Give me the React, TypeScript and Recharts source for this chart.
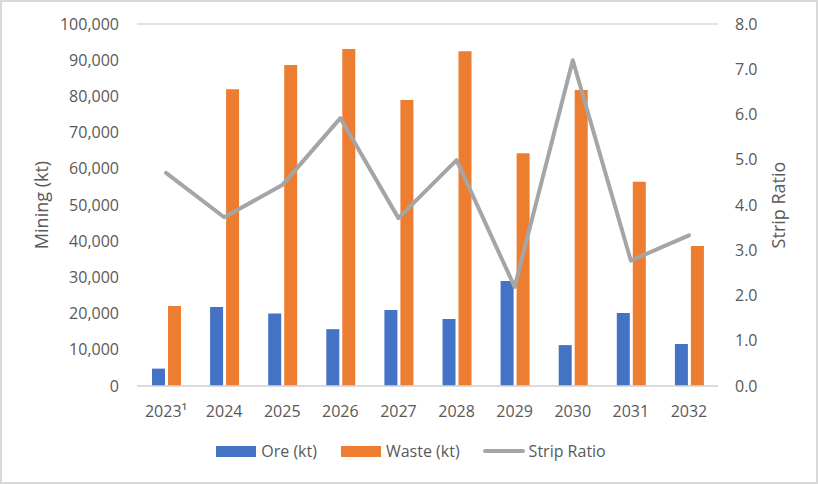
import React from 'react';
import { ComposedChart, Bar, Line, XAxis, YAxis, CartesianGrid, Legend } from 'recharts';

const years = ['2023¹', '2024', '2025', '2026', '2027', '2028', '2029', '2030', '2031', '2032'];
const ore = [4800, 21800, 20000, 15700, 21000, 18500, 29000, 11300, 20200, 11600];
const waste = [22100, 82000, 88700, 93100, 79000, 92500, 64300, 81800, 56400, 38700];
const stripRatio = [4.71, 3.73, 4.44, 5.92, 3.71, 4.99, 2.19, 7.2, 2.77, 3.33];
const miningTicks = [0, 10000, 20000, 30000, 40000, 50000, 60000, 70000, 80000, 90000, 100000];
const ratioTicks = [0, 1, 2, 3, 4, 5, 6, 7, 8];

const data = years.map((year, i) => ({
  year,
  ore: ore[i],
  waste: waste[i],
  ratio: stripRatio[i],
}));

const TEXT = '#595959';
const FONT = '"Open Sans", "Noto Sans", sans-serif';

const ChartLegend = () => (
  <div
    style={{
      display: 'flex',
      justifyContent: 'center',
      alignItems: 'center',
      fontFamily: FONT,
      fontSize: 16,
      color: TEXT,
      paddingLeft: 4,
    }}
  >
    <span style={{ display: 'inline-block', width: 40, height: 11, background: '#4472C4', marginRight: 5 }} />
    <span style={{ marginRight: 24 }}>Ore (kt)</span>
    <span style={{ display: 'inline-block', width: 40, height: 11, background: '#ED7D31', marginRight: 5 }} />
    <span style={{ marginRight: 23 }}>Waste (kt)</span>
    <span style={{ display: 'inline-block', width: 42, height: 4, borderRadius: 2, background: '#A5A5A5', marginRight: 4 }} />
    <span>Strip Ratio</span>
  </div>
);

export default function App() {
  return (
    <div style={{ position: 'fixed', top: 0, left: 0, width: 818, height: 484, background: '#fff' }}>
      <ComposedChart
        width={818}
        height={484}
        data={data}
        margin={{ top: 24, right: 0, left: 0, bottom: 58 }}
        barSize={13}
        barGap={3}
      >
        <CartesianGrid vertical={false} stroke="#D9D9D9" strokeWidth={1.5} />
        <XAxis
          dataKey="year"
          height={40}
          tickLine={false}
          axisLine={{ stroke: '#D9D9D9', strokeWidth: 1.5 }}
          tickMargin={14}
          tick={{ fill: TEXT, fontSize: 16, fontFamily: FONT }}
        />
        <YAxis
          yAxisId="left"
          width={137}
          domain={[0, 100000]}
          ticks={miningTicks}
          interval={0}
          tickLine={false}
          axisLine={false}
          tickMargin={12}
          tick={{ fill: TEXT, fontSize: 16, fontFamily: FONT }}
          tickFormatter={(v: number) => v.toLocaleString('en-US')}
          label={{
            value: 'Mining (kt)',
            angle: -90,
            position: 'insideLeft',
            offset: 42,
            style: { textAnchor: 'middle', fill: TEXT, fontSize: 18, fontFamily: FONT },
          }}
        />
        <YAxis
          yAxisId="right"
          orientation="right"
          width={100}
          domain={[0, 8]}
          ticks={ratioTicks}
          interval={0}
          tickLine={false}
          axisLine={false}
          tickMargin={11}
          tick={{ fill: TEXT, fontSize: 16, fontFamily: FONT }}
          tickFormatter={(v: number) => v.toFixed(1)}
          label={{
            value: 'Strip Ratio',
            angle: -90,
            position: 'insideRight',
            offset: 39,
            style: { textAnchor: 'middle', fill: TEXT, fontSize: 18, fontFamily: FONT },
          }}
        />
        <Legend
          layout="horizontal"
          verticalAlign="middle"
          align="center"
          wrapperStyle={{ top: 440, left: 0, width: 818 }}
          content={() => <ChartLegend />}
        />
        <Bar yAxisId="left" dataKey="ore" name="Ore (kt)" fill="#4472C4" isAnimationActive={false} />
        <Bar yAxisId="left" dataKey="waste" name="Waste (kt)" fill="#ED7D31" isAnimationActive={false} />
        <Line
          yAxisId="right"
          dataKey="ratio"
          name="Strip Ratio"
          type="linear"
          stroke="#A5A5A5"
          strokeWidth={4}
          strokeLinejoin="round"
          strokeLinecap="round"
          dot={false}
          activeDot={false}
          isAnimationActive={false}
        />
      </ComposedChart>
      <div
        style={{
          position: 'absolute',
          inset: 0,
          border: '2px solid #D9D9D9',
          pointerEvents: 'none',
        }}
      />
    </div>
  );
}
